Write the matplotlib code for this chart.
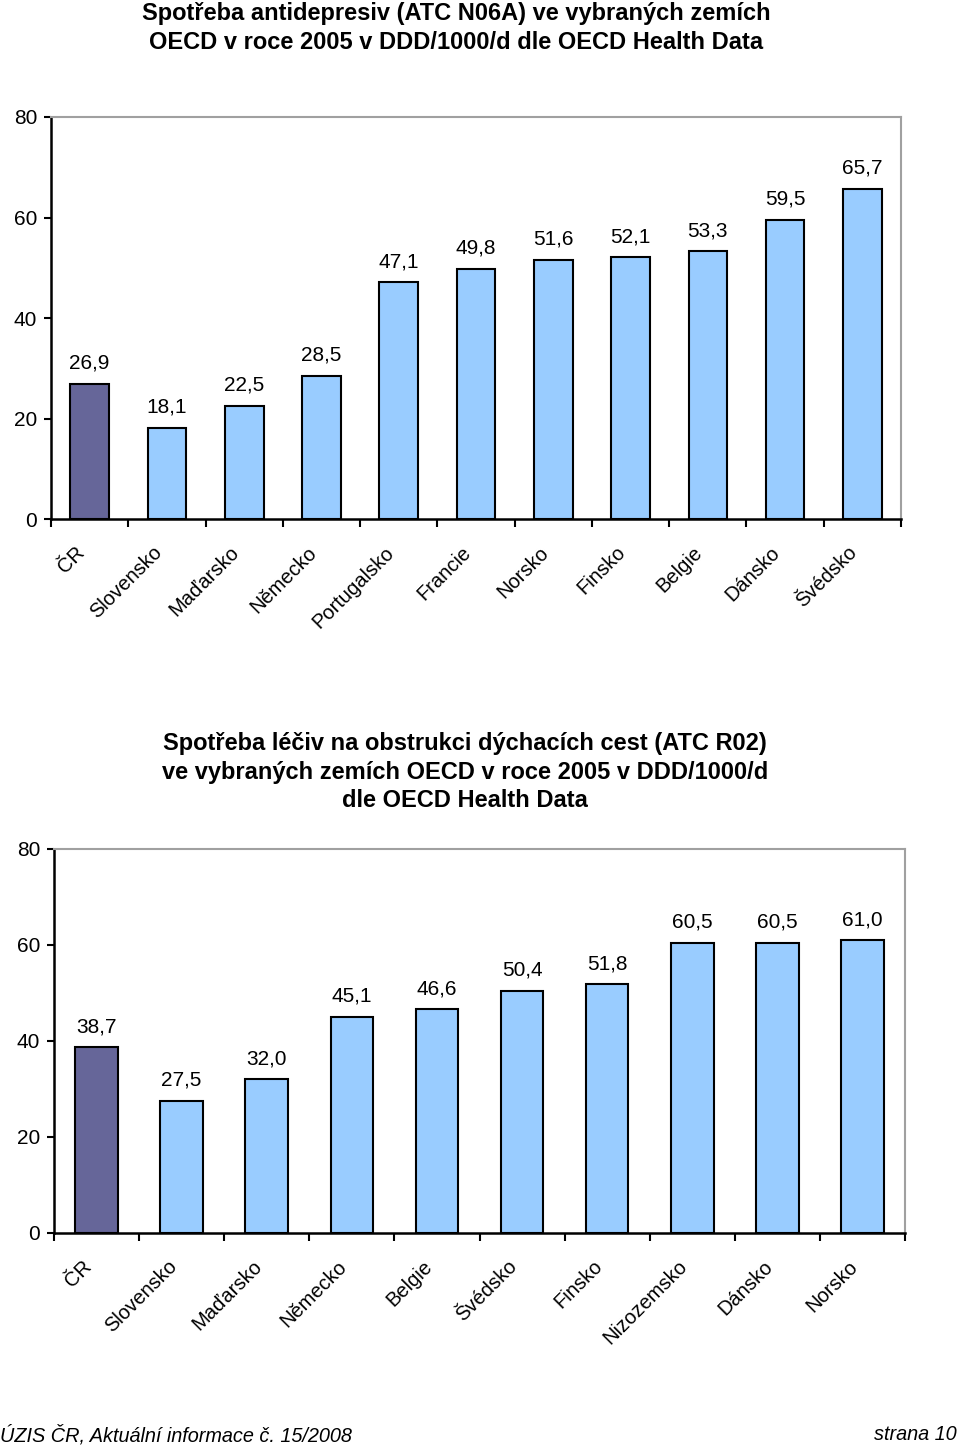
import numpy as np
import matplotlib.pyplot as plt
from matplotlib.transforms import ScaledTranslation

plt.rcParams['font.family'] = ['Liberation Sans', 'DejaVu Sans']

# top chart: antidepressants N06A
cats1 = ['ČR', 'Slovensko', 'Maďarsko', 'Německo', 'Portugalsko', 'Francie',
         'Norsko', 'Finsko', 'Belgie', 'Dánsko', 'Švédsko']
vals1 = [26.9, 18.1, 22.5, 28.5, 47.1, 49.8, 51.6, 52.1, 53.3, 59.5, 65.7]

# bottom chart: R02
cats2 = ['ČR', 'Slovensko', 'Maďarsko', 'Německo', 'Belgie', 'Švédsko',
         'Finsko', 'Nizozemsko', 'Dánsko', 'Norsko']
vals2 = [38.7, 27.5, 32.0, 45.1, 46.6, 50.4, 51.8, 60.5, 60.5, 61.0]

title1 = 'Spotřeba antidepresiv (ATC N06A) ve vybraných zemích\nOECD v roce 2005 v DDD/1000/d dle OECD Health Data'
title2 = 'Spotřeba léčiv na obstrukci dýchacích cest (ATC R02)\nve vybraných zemích OECD v roce 2005 v DDD/1000/d\ndle OECD Health Data'

W, H = 960, 1446
fig = plt.figure(figsize=(W / 100, H / 100), dpi=100)


def box(l, r, t, b):
    return [l / W, 1 - b / H, (r - l) / W, (b - t) / H]


def draw(ax, cats, vals):
    n = len(cats)
    x = np.arange(n)
    colors = ['#666699'] + ['#99CCFF'] * (n - 1)
    ax.bar(x, vals, width=0.5, color=colors, edgecolor='black', linewidth=1.5, zorder=3)
    for xi, v in zip(x, vals):
        ax.annotate(f'{v:.1f}'.replace('.', ','), (xi, v), xytext=(0, 8),
                    textcoords='offset points', ha='center', va='bottom', fontsize=15)
    ax.set_xlim(-0.5, n - 0.5)
    ax.set_ylim(0, 80)
    ax.set_yticks([0, 20, 40, 60, 80])
    ax.tick_params(axis='y', labelsize=15, length=5, width=1.5, direction='out', pad=5)
    ax.set_xticks(np.arange(n + 1) - 0.5)
    ax.set_xticklabels([])
    ax.tick_params(axis='x', length=6, width=1.5, direction='out')
    ax.set_xticks(x, minor=True)
    ax.set_xticklabels(cats, minor=True, rotation=45, ha='right', va='center',
                       rotation_mode='anchor', fontsize=14.5)
    ax.tick_params(axis='x', which='minor', length=0, pad=22)
    shift = ScaledTranslation(-8 / 100, 0, fig.dpi_scale_trans)
    for lab in ax.get_xticklabels(minor=True):
        lab.set_transform(lab.get_transform() + shift)
    for s in ['left', 'bottom']:
        ax.spines[s].set_linewidth(1.8)
        ax.spines[s].set_color('black')
    for s in ['top', 'right']:
        ax.spines[s].set_linewidth(1.5)
        ax.spines[s].set_color('#a0a0a0')


ax1 = fig.add_axes(box(51, 901, 117, 519))
draw(ax1, cats1, vals1)
ax2 = fig.add_axes(box(54, 905, 849, 1233))
draw(ax2, cats2, vals2)

fig.text(456 / W, 1 - 28 / H, title1, ha='center', va='center', fontsize=17,
         fontweight='bold', linespacing=1.3)
fig.text(465 / W, 1 - 772 / H, title2, ha='center', va='center', fontsize=17,
         fontweight='bold', linespacing=1.33)

fig.text(0 / W, 1 - 1435 / H, 'ÚZIS ČR, Aktuální informace č. 15/2008', ha='left',
         va='center', fontsize=14.3, style='italic')
fig.text(957 / W, 1 - 1435 / H, 'strana 10', ha='right', va='center', fontsize=14.3,
         style='italic')

fig.savefig('out.png', dpi=100)
